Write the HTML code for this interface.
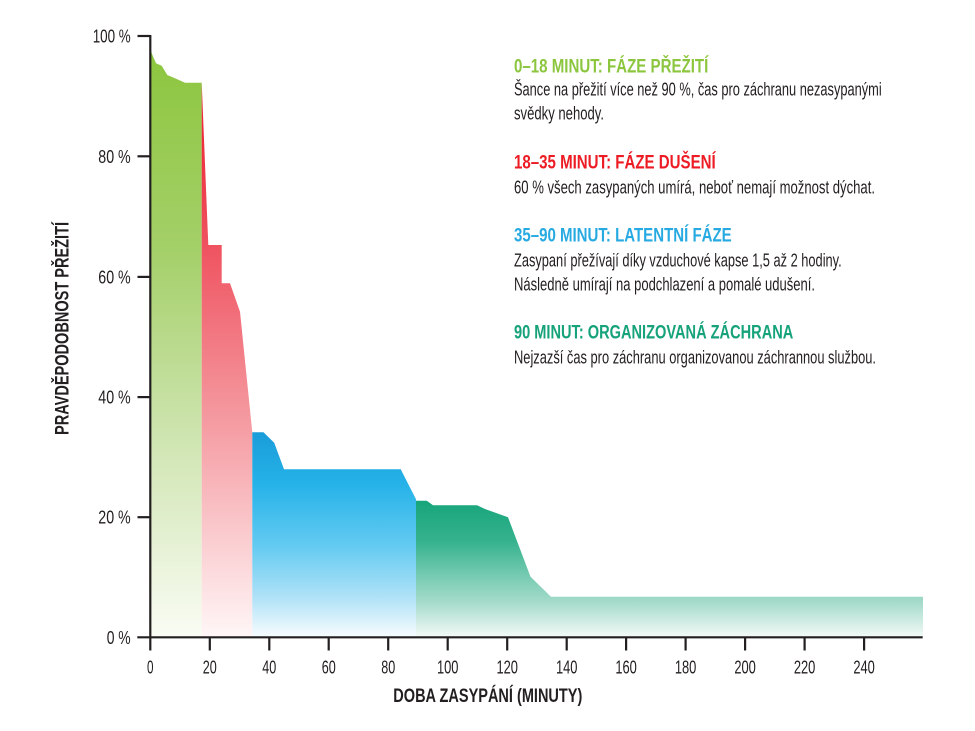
<!DOCTYPE html>
<html>
<head>
<meta charset="utf-8">
<style>
  html, body { margin: 0; padding: 0; background: #ffffff; }
  svg { display: block; }
  text { font-family: "Liberation Sans", "DejaVu Sans", sans-serif; }
</style>
</head>
<body>
<svg width="975" height="731" viewBox="0 0 975 731" xmlns="http://www.w3.org/2000/svg">
  <defs>
    <linearGradient id="gGreen" gradientUnits="userSpaceOnUse" x1="0" y1="48" x2="0" y2="637">
      <stop offset="0" stop-color="#8cc63e"/>
      <stop offset="0.35" stop-color="#a5d06a"/>
      <stop offset="0.65" stop-color="#cde4ae"/>
      <stop offset="1" stop-color="#fafcf4"/>
    </linearGradient>
    <linearGradient id="gRed" gradientUnits="userSpaceOnUse" x1="0" y1="83" x2="0" y2="637">
      <stop offset="0" stop-color="#ed1c2b"/>
      <stop offset="0.3" stop-color="#ef5461"/>
      <stop offset="0.63" stop-color="#f59fa5"/>
      <stop offset="1" stop-color="#fff6f7"/>
    </linearGradient>
    <linearGradient id="gBlue" gradientUnits="userSpaceOnUse" x1="0" y1="432" x2="0" y2="637">
      <stop offset="0" stop-color="#1a9cd9"/>
      <stop offset="0.25" stop-color="#25b2e8"/>
      <stop offset="0.55" stop-color="#62caf1"/>
      <stop offset="0.8" stop-color="#ade1f7"/>
      <stop offset="1" stop-color="#f7fcfe"/>
    </linearGradient>
    <linearGradient id="gTeal" gradientUnits="userSpaceOnUse" x1="0" y1="500" x2="0" y2="637">
      <stop offset="0" stop-color="#17a57b"/>
      <stop offset="0.3" stop-color="#35b28d"/>
      <stop offset="0.6" stop-color="#82cfb8"/>
      <stop offset="0.75" stop-color="#a6dbcb"/>
      <stop offset="1" stop-color="#f3faf7"/>
    </linearGradient>
  </defs>

  <!-- areas -->
  <polygon fill="url(#gGreen)" points="150.3,48.3 151.7,53.3 156,63.3 161.7,65.7 167.3,75 175,78.3 185,82.7 201.7,82.7 201.7,636.5 150.3,636.5"/>
  <polygon fill="url(#gRed)" points="201.7,82.7 208.3,245 221.7,245 221.7,283.3 230,283.3 240,311.7 252.3,432.3 252.3,636.5 201.7,636.5"/>
  <polygon fill="url(#gBlue)" points="252.3,432.3 263.5,432.3 274.2,442.7 284,469.3 400.7,469.3 416,499.3 416,636.5 252.3,636.5"/>
  <polygon fill="url(#gTeal)" points="416,500.7 426.8,500.7 433,505.3 477,505.3 485,509 508,517.3 530.5,576.7 551,596.7 923,596.7 923,636.5 416,636.5"/>

  <!-- axes -->
  <g stroke="#231f20" stroke-width="2.2" fill="none">
    <line x1="150.3" y1="35" x2="150.3" y2="638.4"/>
    <line x1="137.3" y1="637.3" x2="922.7" y2="637.3"/>
    <line x1="137.5" y1="36" x2="150.3" y2="36"/>
    <line x1="137.5" y1="156.3" x2="150.3" y2="156.3"/>
    <line x1="137.5" y1="276.9" x2="150.3" y2="276.9"/>
    <line x1="137.5" y1="397.1" x2="150.3" y2="397.1"/>
    <line x1="137.5" y1="517.2" x2="150.3" y2="517.2"/>
    <line x1="150.3" y1="637.3" x2="150.3" y2="650.5"/>
    <line x1="209.8" y1="637.3" x2="209.8" y2="650.5"/>
    <line x1="269.3" y1="637.3" x2="269.3" y2="650.5"/>
    <line x1="328.7" y1="637.3" x2="328.7" y2="650.5"/>
    <line x1="388.2" y1="637.3" x2="388.2" y2="650.5"/>
    <line x1="447.7" y1="637.3" x2="447.7" y2="650.5"/>
    <line x1="507.2" y1="637.3" x2="507.2" y2="650.5"/>
    <line x1="566.7" y1="637.3" x2="566.7" y2="650.5"/>
    <line x1="626.1" y1="637.3" x2="626.1" y2="650.5"/>
    <line x1="685.6" y1="637.3" x2="685.6" y2="650.5"/>
    <line x1="745.1" y1="637.3" x2="745.1" y2="650.5"/>
    <line x1="804.6" y1="637.3" x2="804.6" y2="650.5"/>
    <line x1="864.1" y1="637.3" x2="864.1" y2="650.5"/>
  </g>

  <!-- y tick labels -->
  <g fill="#231f20" font-size="18">
    <text x="92.7" y="42.5" textLength="38" lengthAdjust="spacingAndGlyphs">100 %</text>
    <text x="98.3" y="162.8" textLength="32.4" lengthAdjust="spacingAndGlyphs">80 %</text>
    <text x="98.3" y="283.4" textLength="32.4" lengthAdjust="spacingAndGlyphs">60 %</text>
    <text x="98.3" y="403.6" textLength="32.4" lengthAdjust="spacingAndGlyphs">40 %</text>
    <text x="98.3" y="523.7" textLength="32.4" lengthAdjust="spacingAndGlyphs">20 %</text>
    <text x="106.7" y="643.8" textLength="24" lengthAdjust="spacingAndGlyphs">0 %</text>
  </g>

  <!-- x tick labels -->
  <g fill="#231f20" font-size="18.5">
    <text x="147.05" y="673.5" textLength="6.5" lengthAdjust="spacingAndGlyphs">0</text>
    <text x="202.8" y="673.5" textLength="14" lengthAdjust="spacingAndGlyphs">20</text>
    <text x="262.3" y="673.5" textLength="14" lengthAdjust="spacingAndGlyphs">40</text>
    <text x="321.7" y="673.5" textLength="14" lengthAdjust="spacingAndGlyphs">60</text>
    <text x="381.2" y="673.5" textLength="14" lengthAdjust="spacingAndGlyphs">80</text>
    <text x="436.95" y="673.5" textLength="21.5" lengthAdjust="spacingAndGlyphs">100</text>
    <text x="496.45" y="673.5" textLength="21.5" lengthAdjust="spacingAndGlyphs">120</text>
    <text x="555.95" y="673.5" textLength="21.5" lengthAdjust="spacingAndGlyphs">140</text>
    <text x="615.35" y="673.5" textLength="21.5" lengthAdjust="spacingAndGlyphs">160</text>
    <text x="674.85" y="673.5" textLength="21.5" lengthAdjust="spacingAndGlyphs">180</text>
    <text x="734.35" y="673.5" textLength="21.5" lengthAdjust="spacingAndGlyphs">200</text>
    <text x="793.85" y="673.5" textLength="21.5" lengthAdjust="spacingAndGlyphs">220</text>
    <text x="853.35" y="673.5" textLength="21.5" lengthAdjust="spacingAndGlyphs">240</text>
  </g>

  <!-- axis titles -->
  <text x="393.3" y="702" font-size="19" font-weight="bold" fill="#231f20" textLength="189" lengthAdjust="spacingAndGlyphs">DOBA ZASYPÁNÍ (MINUTY)</text>
  <text transform="translate(68.5,435) rotate(-90)" x="0" y="0" font-size="19" font-weight="bold" fill="#231f20" textLength="213" lengthAdjust="spacingAndGlyphs">PRAVDĚPODOBNOST PŘEŽITÍ</text>

  <!-- legend / annotations -->
  <g font-size="19.5" font-weight="bold">
    <text x="514" y="72.3" fill="#8cc63f" textLength="194.3" lengthAdjust="spacingAndGlyphs">0–18 MINUT: FÁZE PŘEŽITÍ</text>
    <text x="514" y="168.3" fill="#ed1c24" textLength="201.7" lengthAdjust="spacingAndGlyphs">18–35 MINUT: FÁZE DUŠENÍ</text>
    <text x="514" y="241.3" fill="#27aae1" textLength="217.7" lengthAdjust="spacingAndGlyphs">35–90 MINUT: LATENTNÍ FÁZE</text>
    <text x="514" y="338.3" fill="#16a27a" textLength="279.3" lengthAdjust="spacingAndGlyphs">90 MINUT: ORGANIZOVANÁ ZÁCHRANA</text>
  </g>
  <g font-size="18.5" fill="#231f20">
    <text x="514" y="95.3" textLength="367.7" lengthAdjust="spacingAndGlyphs">Šance na přežití více než 90 %, čas pro záchranu nezasypanými</text>
    <text x="514" y="119.3" textLength="90" lengthAdjust="spacingAndGlyphs">svědky nehody.</text>
    <text x="514" y="193.3" textLength="361" lengthAdjust="spacingAndGlyphs">60 % všech zasypaných umírá, neboť nemají možnost dýchat.</text>
    <text x="514" y="266.3" textLength="327.7" lengthAdjust="spacingAndGlyphs">Zasypaní přežívají díky vzduchové kapse 1,5 až 2 hodiny.</text>
    <text x="514" y="290.3" textLength="301" lengthAdjust="spacingAndGlyphs">Následně umírají na podchlazení a pomalé udušení.</text>
    <text x="514" y="363.3" textLength="362" lengthAdjust="spacingAndGlyphs">Nejzazší čas pro záchranu organizovanou záchrannou službou.</text>
  </g>
</svg>
</body>
</html>
